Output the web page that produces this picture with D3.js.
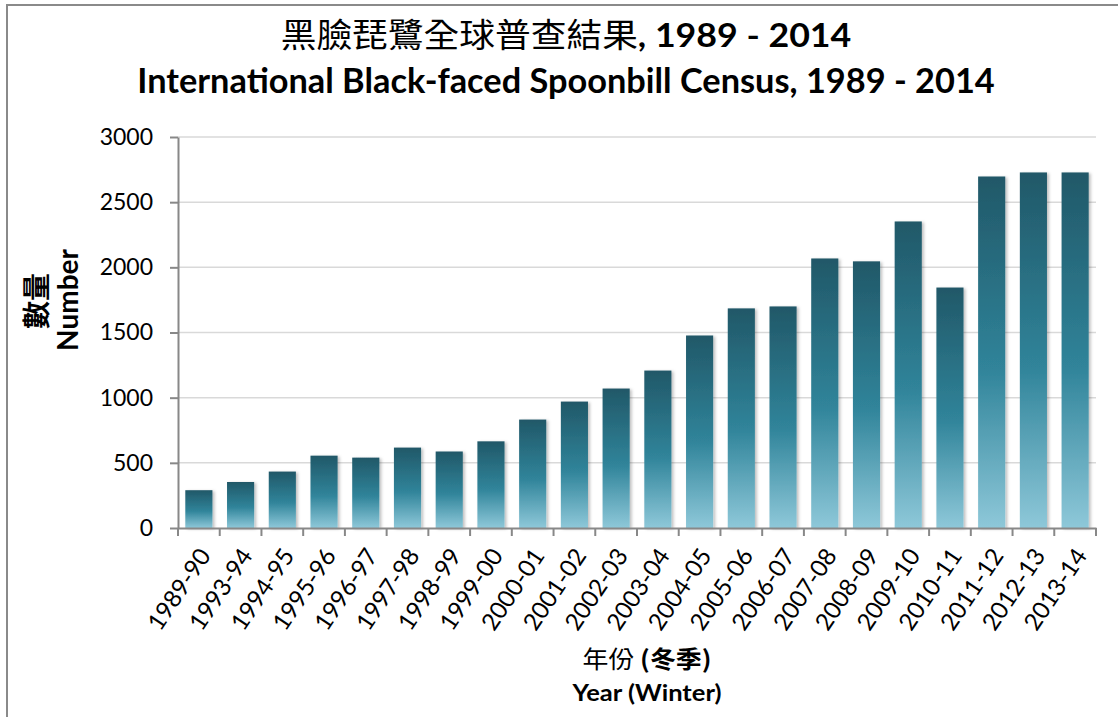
<!DOCTYPE html>
<html>
<head>
<meta charset="utf-8">
<script src="https://cdn.jsdelivr.net/npm/d3@7"></script>
<style>
  body { margin: 0; background: #fff; }
  svg { display: block; }
</style>
</head>
<body>
<script>
// census winters and counts
var categories = ["1989-90", "1993-94", "1994-95", "1995-96", "1996-97", "1997-98",
    "1998-99", "1999-00", "2000-01", "2001-02", "2002-03", "2003-04", "2004-05",
    "2005-06", "2006-07", "2007-08", "2008-09", "2009-10", "2010-11", "2011-12",
    "2012-13", "2013-14"];
var counts = [290, 353, 433, 555, 540, 617, 587, 665, 832, 970, 1070, 1208, 1477,
    1685, 1700, 2068, 2046, 2352, 1845, 2697, 2728, 2728];
var yTicks = [0, 500, 1000, 1500, 2000, 2500, 3000];

var width = 1118;
var height = 717;
var plot = {left: 178, right: 1096, top: 137, bottom: 528};

var svg = d3.select("body")
    .append("svg")
        .attr("width", width)
        .attr("height", height);

var defs = svg.append("defs");
var grad = defs.append("linearGradient")
    .attr("id", "barGrad")
    .attr("x1", 0).attr("y1", 0).attr("x2", 0).attr("y2", 1);
grad.append("stop").attr("offset", "0%").attr("stop-color", "#215868");
grad.append("stop").attr("offset", "55%").attr("stop-color", "#30849a");
grad.append("stop").attr("offset", "100%").attr("stop-color", "#8ec8d9");

var shadow = defs.append("filter").attr("id", "shadow")
    .attr("x", "-20%").attr("y", "-5%").attr("width", "150%").attr("height", "115%");
shadow.append("feDropShadow")
    .attr("dx", 2).attr("dy", 1).attr("stdDeviation", 1.6)
    .attr("flood-color", "#000").attr("flood-opacity", 0.25);

// outer chart frame (left and top edges are visible)
svg.append("path")
    .attr("d", "M7,717 V5 H1118")
    .attr("fill", "none")
    .attr("stroke", "#8a8a8a")
    .attr("stroke-width", 2);

var x = d3.scaleBand()
    .domain(categories)
    .range([plot.left, plot.right])
    .paddingInner(0.35)
    .paddingOuter(0.175);

var y = d3.scaleLinear()
    .domain([0, 3000])
    .range([plot.bottom, plot.top]);

// gridlines
svg.append("g").attr("class", "grid")
    .selectAll("line")
    .data(yTicks.filter((d) => d > 0))
    .enter().append("line")
        .attr("x1", plot.left).attr("x2", plot.right)
        .attr("y1", (d) => y(d)).attr("y2", (d) => y(d))
        .attr("stroke", "#d9d9d9")
        .attr("stroke-width", 1.5);

// bars
svg.append("g")
    .selectAll("rect")
    .data(counts)
    .enter().append("rect")
        .attr("x", (d, i) => x(categories[i]))
        .attr("y", (d) => y(d))
        .attr("width", x.bandwidth())
        .attr("height", (d) => y(0) - y(d))
        .attr("fill", "url(#barGrad)")
        .attr("filter", "url(#shadow)");

// y axis
var leftAxis = d3.axisLeft(y)
    .tickValues(yTicks)
    .tickFormat(d3.format("d"))
    .tickSize(8)
    .tickPadding(17)
    .tickSizeOuter(0);
var yAxisGroup = svg.append("g")
    .attr("transform", "translate(" + plot.left + ",0)")
    .call(leftAxis);
yAxisGroup.select(".domain").attr("stroke", "#888").attr("stroke-width", 2);
yAxisGroup.selectAll(".tick line").attr("stroke", "#888").attr("stroke-width", 2);
yAxisGroup.selectAll("text")
    .attr("font-family", "Lato, 'Open Sans', sans-serif")
    .attr("font-size", "23px")
    .attr("fill", "#000");

// x axis
var bottomAxis = d3.axisBottom(x).tickSize(0).tickSizeOuter(0);
var xAxisGroup = svg.append("g")
    .attr("transform", "translate(0," + plot.bottom + ")")
    .call(bottomAxis);
xAxisGroup.select(".domain").attr("stroke", "#888").attr("stroke-width", 2);
xAxisGroup.selectAll("text")
    .attr("font-family", "Lato, 'Open Sans', sans-serif")
    .attr("font-size", "24px")
    .attr("fill", "#000")
    .attr("text-anchor", "end")
    .attr("x", 0)
    .attr("y", 0)
    .attr("dy", "0.35em")
    .attr("transform", "translate(6,23) rotate(-56)");

// x tick marks sit on the band boundaries
var boundaries = d3.range(categories.length + 1)
    .map((i) => plot.left + i * (plot.right - plot.left) / categories.length);
xAxisGroup.selectAll(".bound")
    .data(boundaries)
    .enter().append("line")
        .attr("class", "bound")
        .attr("x1", (d) => d).attr("x2", (d) => d)
        .attr("y1", 0).attr("y2", 8)
        .attr("stroke", "#888")
        .attr("stroke-width", 2);

// squeeze a text horizontally to a target width
function fitWidth(sel, cx, cy, target) {
    var w = sel.node().getBBox().width;
    sel.attr("transform", "translate(" + cx + "," + cy + ") scale(" + (target / w) + ",1)");
}

// titles
var t1 = svg.append("text")
    .attr("text-anchor", "middle")
    .attr("font-size", "33px")
    .attr("fill", "#000");
t1.append("tspan")
    .attr("font-family", "'Noto Sans CJK TC', sans-serif")
    .text("黑臉琵鷺全球普查結果");
t1.append("tspan")
    .attr("font-family", "Lato, sans-serif")
    .attr("font-weight", "bold")
    .text(", 1989 - 2014");
fitWidth(t1, 566, 47, 571);

var t2 = svg.append("text")
    .attr("text-anchor", "middle")
    .attr("font-family", "Lato, sans-serif")
    .attr("font-weight", "bold")
    .attr("font-size", "34px")
    .attr("fill", "#000")
    .text("International Black-faced Spoonbill Census, 1989 - 2014");
fitWidth(t2, 566, 93, 858);

// axis titles
var xt1 = svg.append("text")
    .attr("text-anchor", "middle")
    .attr("font-size", "24px")
    .attr("fill", "#000");
xt1.append("tspan")
    .attr("font-family", "'Noto Sans CJK TC', sans-serif")
    .text("年份 ");
xt1.append("tspan")
    .attr("font-family", "'Noto Sans CJK TC', sans-serif")
    .attr("font-weight", "bold")
    .text("(冬季)");
fitWidth(xt1, 647, 668, 129);

var xt2 = svg.append("text")
    .attr("text-anchor", "middle")
    .attr("font-family", "Lato, sans-serif")
    .attr("font-weight", "bold")
    .attr("font-size", "23px")
    .attr("fill", "#000")
    .text("Year (Winter)");
fitWidth(xt2, 647, 701, 150);

svg.append("text")
    .attr("text-anchor", "middle")
    .attr("font-family", "'Noto Sans CJK TC', sans-serif")
    .attr("font-weight", "bold")
    .attr("font-size", "28px")
    .attr("fill", "#000")
    .attr("transform", "translate(47,301) rotate(-90)")
    .text("數量");

svg.append("text")
    .attr("text-anchor", "middle")
    .attr("font-family", "Lato, sans-serif")
    .attr("font-weight", "bold")
    .attr("font-size", "28px")
    .attr("fill", "#000")
    .attr("transform", "translate(78,300) rotate(-90)")
    .text("Number");
</script>
</body>
</html>
